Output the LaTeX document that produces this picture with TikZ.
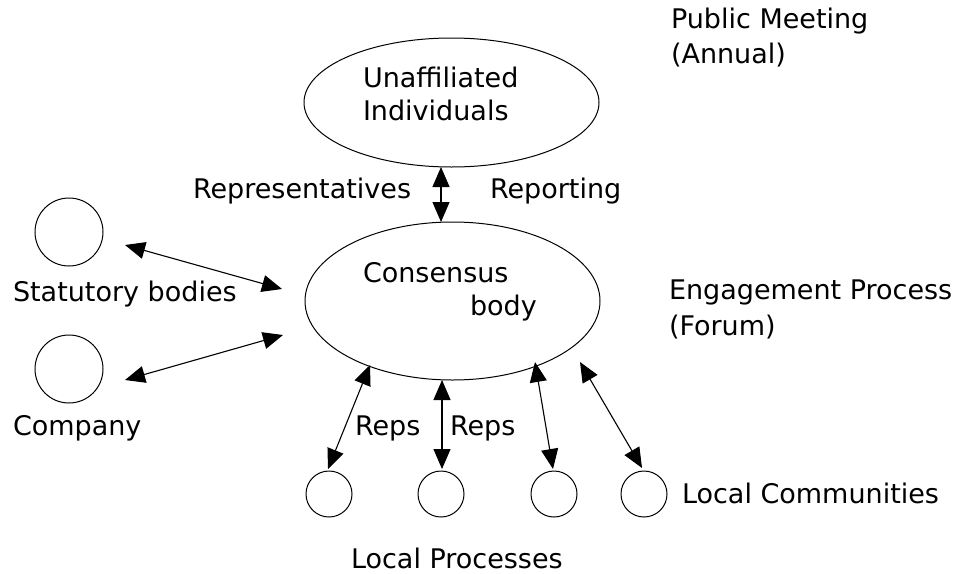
\documentclass[tikz,border=0pt]{standalone}
\usepackage{fontspec}
\setmainfont{DejaVu Sans}
\usetikzlibrary{arrows.meta,shapes.geometric}
\begin{document}
\begin{tikzpicture}[x=1pt,y=-1pt,
  every node/.style={font=\fontsize{27}{33}\selectfont, inner sep=0pt, outer sep=0pt},
  lbl/.style={anchor=base west},
  bigell/.style={draw, ellipse, line width=1pt, minimum width=295pt},
  smallcirc/.style={draw, circle, line width=1pt, minimum size=46pt},
  midcirc/.style={draw, circle, line width=1pt, minimum size=68pt},
  arr/.style={{Triangle[length=20pt,width=17pt]}-{Triangle[length=20pt,width=17pt]}, line width=1.1pt}]
\useasboundingbox (0,0) rectangle (960,573);
\fill[white] (0,0) rectangle (960,573);
% ellipses
\node[bigell, minimum height=129pt] (ua) at (451.5,102.5) {};
\node[bigell, minimum height=158pt] (cb) at (452.5,301) {};
% left circles
\node[midcirc] (sbc) at (69,232) {};
\node[midcirc] (coc) at (69,369) {};
% bottom circles
\node[smallcirc] (lp1) at (329,494) {};
\node[smallcirc] (lp2) at (441,494) {};
\node[smallcirc] (lp3) at (554,494) {};
\node[smallcirc] (lp4) at (644,494) {};
% texts
\node[lbl] (pm1) at (671,28) {Public Meeting};
\node[lbl] (pm2) at (671,63) {(Annual)};
\node[lbl] (ua1) at (363,87) {Unaffiliated};
\node[lbl] (ua2) at (363,120) {Individuals};
\node[lbl] (rep) at (193,198) {Representatives};
\node[lbl] (rpt) at (490,198) {Reporting};
\node[lbl] (cs1) at (363,282) {Consensus};
\node[lbl] (cs2) at (470,315) {body};
\node[lbl] (sb) at (13,301) {Statutory bodies};
\node[lbl] (co) at (13,435) {Company};
\node[lbl] (ep1) at (669,299) {Engagement Process};
\node[lbl] (ep2) at (669,335) {(Forum)};
\node[lbl] (reps1) at (355,435) {Reps};
\node[lbl] (reps2) at (450,435) {Reps};
\node[lbl] (lc) at (682,503) {Local Communities};
\node[lbl] (lp) at (351,568) {Local Processes};
% connector end points
\coordinate (uab) at (441,167);
\coordinate (cbt) at (441,222);
\coordinate (sbe) at (125,245);
\coordinate (cbs) at (282,289);
\coordinate (coe) at (125,380);
\coordinate (cbc) at (283,335);
\coordinate (cb1) at (370,365);
\coordinate (cb2) at (442,380);
\coordinate (cb3) at (535,362);
\coordinate (cb4) at (580,362);
\coordinate (lp1t) at (328,469);
\coordinate (lp2t) at (442,469);
\coordinate (lp3t) at (553,469);
\coordinate (lp4t) at (642,468);
% connectors
\draw[arr] (uab) -- (cbt);
\draw[arr] (sbe) -- (cbs);
\draw[arr] (coe) -- (cbc);
\draw[arr] (cb1) -- (lp1t);
\draw[arr] (cb2) -- (lp2t);
\draw[arr] (cb3) -- (lp3t);
\draw[arr] (cb4) -- (lp4t);
\end{tikzpicture}
\end{document}
